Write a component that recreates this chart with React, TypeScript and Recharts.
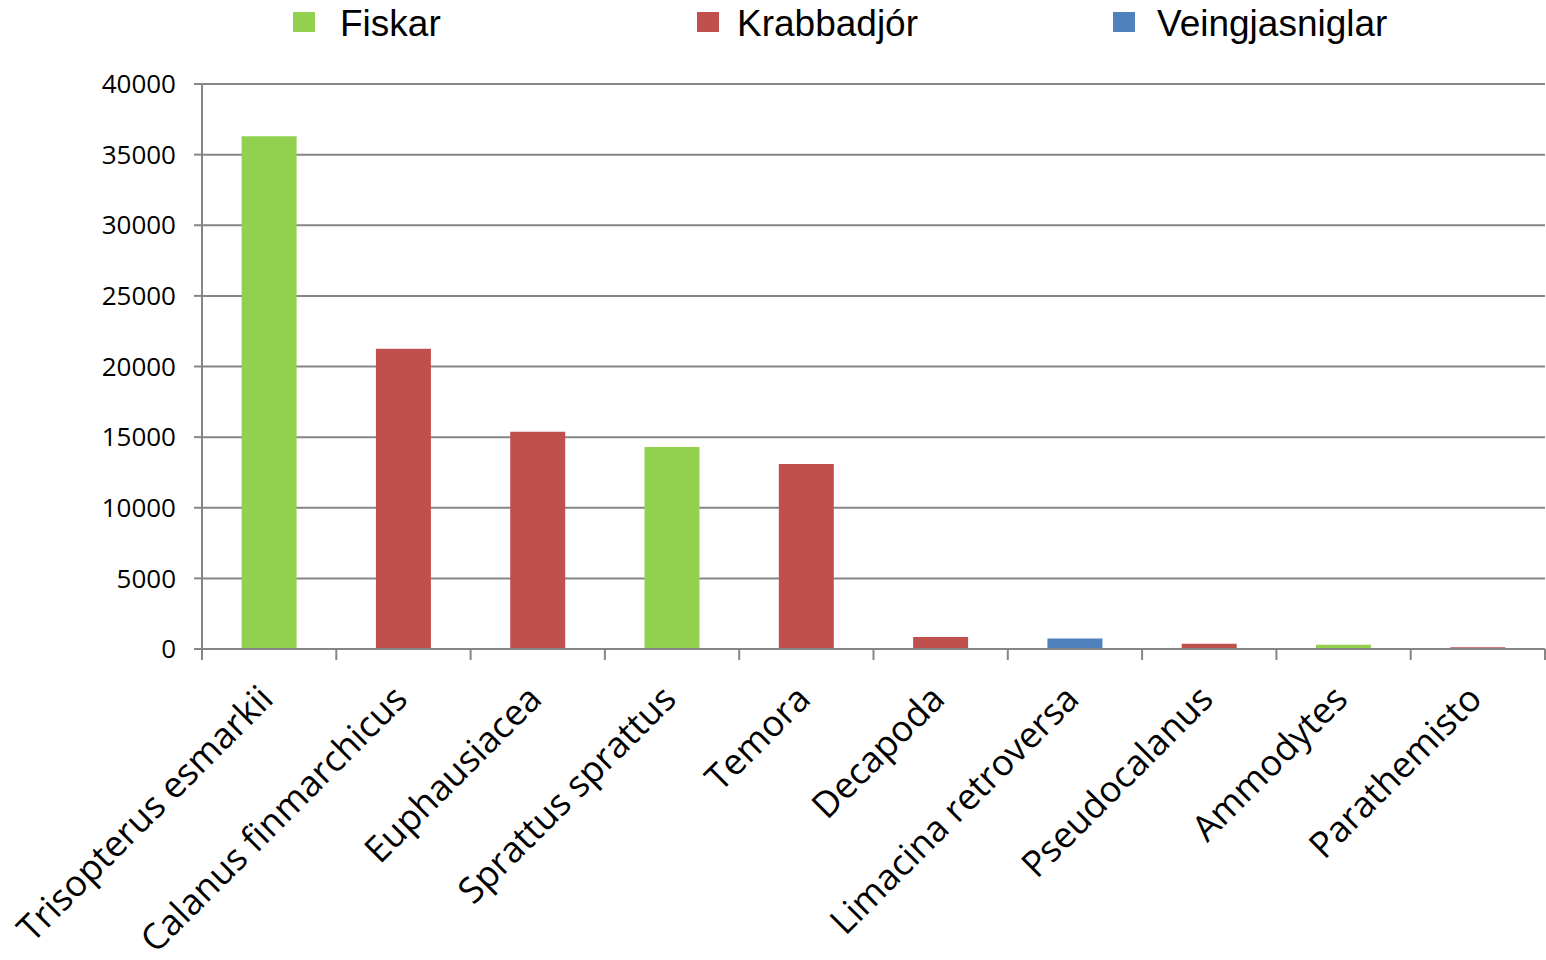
import React from 'react';
import { BarChart, Bar, XAxis, YAxis, CartesianGrid } from 'recharts';

const categories = [
  'Trisopterus esmarkii',
  'Calanus finmarchicus',
  'Euphausiacea',
  'Sprattus sprattus',
  'Temora',
  'Decapoda',
  'Limacina retroversa',
  'Pseudocalanus',
  'Ammodytes',
  'Parathemisto',
];
const values = [36300, 21250, 15380, 14300, 13100, 850, 740, 370, 300, 120];
const groups = ['Fiskar', 'Krabbadjór', 'Krabbadjór', 'Fiskar', 'Krabbadjór', 'Krabbadjór', 'Veingjasniglar', 'Krabbadjór', 'Fiskar', 'Krabbadjór'];
const seriesNames = ['Fiskar', 'Krabbadjór', 'Veingjasniglar'];
const seriesColors = ['#92d050', '#c0504d', '#4f81bd'];
const yTicks = [0, 5000, 10000, 15000, 20000, 25000, 30000, 35000, 40000];

const data = categories.map((name, i) => {
  const row: Record<string, string | number> = { name };
  seriesNames.forEach((s) => {
    row[s] = groups[i] === s ? values[i] : 0;
  });
  return row;
});

// legend placement
const legendSquareX = [293, 697, 1113];
const legendTextX = [340, 737, 1157];

const TopLegend = () => (
  <>
    {seriesNames.map((s, i) => (
      <React.Fragment key={s}>
        <div style={{ position: 'absolute', left: legendSquareX[i], top: 12, width: 22, height: 20, background: seriesColors[i] }} />
        <div
          style={{
            position: 'absolute',
            left: legendTextX[i],
            top: 3,
            fontFamily: '"Liberation Sans", Arial, sans-serif',
            fontSize: 37,
            lineHeight: '42px',
            color: '#000',
            whiteSpace: 'nowrap',
          }}
        >
          {s}
        </div>
      </React.Fragment>
    ))}
  </>
);

const XTick = (props: any) => {
  const { x, y, payload } = props;
  const half = payload && payload.offset ? payload.offset : 67.2;
  return (
    <g>
      <line x1={x + half} y1={y - 8} x2={x + half} y2={y + 3} stroke="#868686" strokeWidth={2} />
      {payload.index === 0 && (
        <line x1={x - half} y1={y - 8} x2={x - half} y2={y + 3} stroke="#868686" strokeWidth={2} />
      )}
      <text
        x={x + 6}
        y={y + 44}
        textAnchor="end"
        transform={`rotate(-45, ${x + 6}, ${y + 44})`}
        fontFamily='"Open Sans", sans-serif'
        fontSize={36}
        fill="#000"
      >
        {payload.value}
      </text>
    </g>
  );
};

export default function App() {
  return (
    <div style={{ position: 'absolute', left: 0, top: 0, width: 1546, height: 960, background: '#fff', overflow: 'hidden' }}>
      <BarChart
        width={1546}
        height={960}
        data={data}
        margin={{ top: 84, right: 1, left: 0, bottom: 0 }}
        barCategoryGap="29.5%"
      >
        <CartesianGrid vertical={false} stroke="#868686" strokeWidth={2} />
        <XAxis
          dataKey="name"
          interval={0}
          height={311}
          axisLine={{ stroke: '#868686', strokeWidth: 2 }}
          tickLine={false}
          tick={<XTick />}
        />
        <YAxis
          width={202}
          domain={[0, 40000]}
          ticks={yTicks}
          interval={0}
          axisLine={{ stroke: '#868686', strokeWidth: 2 }}
          tickLine={{ stroke: '#868686', strokeWidth: 2 }}
          tickSize={8}
          tickMargin={18}
          tick={{ fontFamily: '"Open Sans", sans-serif', fontSize: 26, fill: '#000' }}
        />
        {seriesNames.map((s, i) => (
          <Bar key={s} dataKey={s} stackId="a" fill={seriesColors[i]} isAnimationActive={false} />
        ))}
      </BarChart>
      <TopLegend />
    </div>
  );
}
